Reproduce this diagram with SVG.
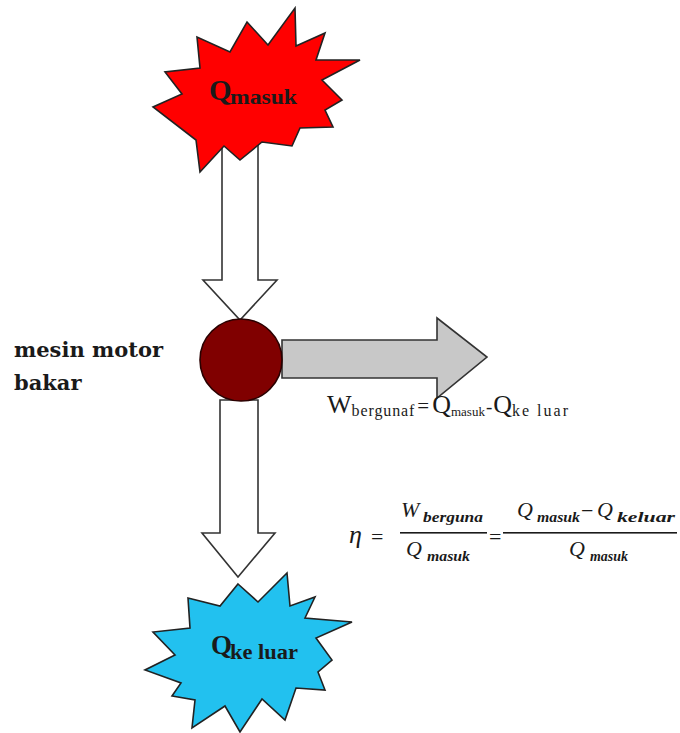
<svg xmlns="http://www.w3.org/2000/svg" width="680" height="733" viewBox="0 0 680 733">
<style>
.arrow{stroke:#333;stroke-width:1.6;stroke-linejoin:miter}
.burst{stroke:#222;stroke-width:1.6;stroke-linejoin:miter}
.lbl{font-family:"DejaVu Serif",serif;font-weight:bold;font-size:21px;fill:#1a1a1a}
</style>
<rect width="680" height="733" fill="#fff"/>
<g id="connectors">
<polygon class="arrow" fill="#fff" points="222,140 258,140 258,280 277,280 240,320 203,280 222,280"/>
<polygon class="arrow" fill="#c8c8c8" points="282,340 437,340 437,318 487,357 437,398 437,378 282,378"/>
<polygon class="arrow" fill="#fff" points="220,400 258,400 258,533 275,533 238,577 202,533 220,533"/>
</g>
<g id="q-masuk" font-family="Liberation Serif, serif" font-weight="bold" fill="#1a1a1a">
<polygon class="burst" fill="#ff0000" points="247,22 268,45 295,8 296,46 325,33 316,60 360,60 322,80 342,100 325,110 333,127 300,128 292,146 262,142 240,160 224,146 200,172 196,140 153,107 182,94 165,72 200,68 197,37 230,52"/>
<text x="209" y="100" font-size="29">Q</text>
<text x="230" y="104" font-size="20" textLength="67" lengthAdjust="spacingAndGlyphs">masuk</text>
</g>
<g id="mesin">
<circle cx="241" cy="360" r="41" fill="#800000" stroke="#2a0000" stroke-width="1.6"/>
</g>
<g id="label-mesin">
<text class="lbl" x="14" y="357">mesin motor</text>
<text class="lbl" x="14" y="390">bakar</text>
</g>
<g id="q-keluar" font-family="Liberation Serif, serif" font-weight="bold" fill="#1a1a1a">
<polygon class="burst" fill="#22c1ef" points="238,584 258,602 287,573 290,606 315,597 305,618 352,622 316,638 332,660 318,672 325,690 296,688 285,720 262,699 240,732 225,706 192,728 195,700 172,696 181,683 145,670 175,655 153,632 190,628 188,598 220,606"/>
<text x="211" y="654" font-size="27">Q</text>
<text x="230" y="659" font-size="20" textLength="68" lengthAdjust="spacingAndGlyphs">ke luar</text>
</g>
<g id="eq-w" font-family="Liberation Serif, serif" fill="#1a1a1a">
<text x="327" y="413" font-size="26">W<tspan font-size="16" dy="3" letter-spacing="0.9">bergunaf</tspan><tspan font-size="21" dy="-3" dx="2">=</tspan><tspan dx="3">Q</tspan><tspan font-size="13" dy="3">masuk</tspan><tspan font-size="19" dy="-3" dx="1">-</tspan><tspan dx="1">Q</tspan><tspan font-size="16" dy="3" letter-spacing="2">ke luar</tspan></text>
</g>
<g id="eq-eta" font-family="Liberation Serif, serif" fill="#1a1a1a" font-style="italic">
<text x="349" y="543" font-size="26">η</text>
<text x="371" y="544" font-size="22" font-style="normal">=</text>
<text x="401" y="517" font-size="22">W</text>
<text x="423" y="522" font-size="15" font-weight="bold" textLength="60" lengthAdjust="spacingAndGlyphs">berguna</text>
<rect x="400" y="532" width="87" height="1.6"/>
<text x="406" y="556" font-size="22">Q</text>
<text x="427" y="561" font-size="15" font-weight="bold" textLength="43" lengthAdjust="spacingAndGlyphs">masuk</text>
<text x="489" y="544" font-size="22" font-style="normal">=</text>
<rect x="503" y="532" width="174" height="1.6"/>
<text x="517" y="517" font-size="22">Q</text>
<text x="537" y="522" font-size="15" font-weight="bold" textLength="43" lengthAdjust="spacingAndGlyphs">masuk</text>
<text x="581" y="518" font-size="22" font-style="normal">−</text>
<text x="597" y="517" font-size="22">Q</text>
<text x="617" y="522" font-size="15" font-weight="bold" textLength="58" lengthAdjust="spacingAndGlyphs">keluar</text>
<text x="569" y="556" font-size="22">Q</text>
<text x="590" y="561" font-size="15" font-weight="bold" textLength="38" lengthAdjust="spacingAndGlyphs">masuk</text>
</g>
</svg>
